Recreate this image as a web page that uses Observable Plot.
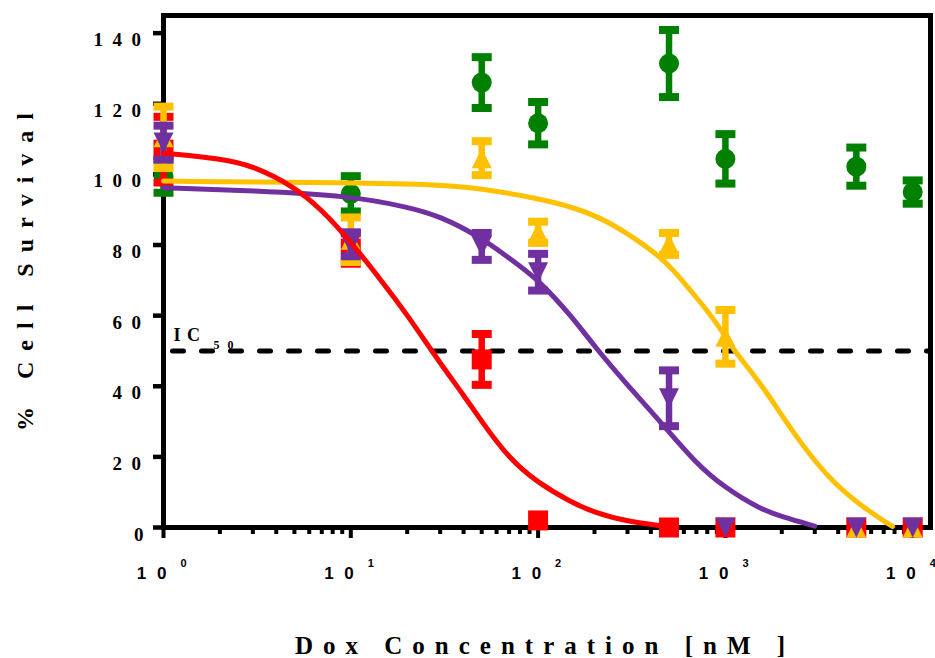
<!DOCTYPE html>
<html>
<head>
<meta charset="utf-8">
<script src="https://cdn.jsdelivr.net/npm/d3@7"></script>
<script src="https://cdn.jsdelivr.net/npm/@observablehq/plot@0.6"></script>
<style>
  html, body { margin: 0; padding: 0; background: #fff; }
</style>
</head>
<body>
<div id="chart"></div>
<script>
// ---- data ----
const doses = [1, 10, 50, 100, 500, 1000, 5000, 10000];

const greenMean  = [99.5, 94.5, 126, 114.5, 131.4, 104.4, 102.2, 95];
const greenErr   = [4.7, 5, 7.2, 6, 9.5, 7, 5.4, 3.3];
const redMean    = [107, 79, 47.6, 2, 0, 0, 0, 0];
const redErr     = [9.3, 4.3, 7.2, 0, 0, 0, 0, 0];
const yellowMean = [110.5, 81.5, 104.6, 83.6, 80.3, 54, 0, 0];
const yellowErr  = [8.7, 6.3, 4.8, 3, 3.1, 7.6, 0, 0];
const purpleMean = [109, 80.2, 79.6, 72.3, 36.6, 0, 0, 0];
const purpleErr  = [4.8, 3.4, 3.8, 5.2, 7.9, 0, 0, 0];

// fitted curves
const redFitDose = [1, 2, 3, 5, 7, 10, 15, 20, 30, 40, 50, 70, 100, 150, 200, 300, 550];
const redFitSurv = [106, 104.5, 102.5, 96.5, 90, 81, 69, 60.3, 46.5, 37.5, 30, 19.5, 12.6, 7.2, 4.2, 1.6, 0];
const purpleFitDose = [1, 3, 10, 20, 30, 50, 70, 100, 150, 200, 300, 450, 700, 1000, 1500, 2000, 3000];
const purpleFitSurv = [96.2, 95.4, 93.9, 90.8, 88.2, 82, 76.3, 70.3, 60, 51.3, 40.3, 30, 18, 11.2, 5.5, 3, 0.4];
const yellowFitDose = [1, 10, 30, 50, 100, 155, 234, 352, 450, 530, 651, 800, 982, 1110, 1361, 1700, 2517, 3777, 5738, 7800];
const yellowFitSurv = [98.1, 97.6, 97.1, 96, 93.2, 90.7, 86.9, 80.8, 76.5, 72.8, 67.1, 61.5, 54.9, 50.1, 44.5, 37.5, 23.8, 12.4, 4.8, 0.3];

const ic50 = [50];
const yTicks = [0, 20, 40, 60, 80, 100, 120, 140];
const xMajor = [1, 10, 100, 1000, 10000];
const xExponents = ["0", "1", "2", "3", "4"];
const xMinor = [2,3,4,5,6,7,8,9, 20,30,40,50,60,70,80,90, 200,300,400,500,600,700,800,900, 2000,3000,4000,5000,6000,7000,8000,9000];

const colors = {green: "#008000", red: "#FF0000", yellow: "#FFC000", purple: "#7030A0"};

// ---- symbols ----
const rectSym = (w, h) => ({draw(ctx) { ctx.moveTo(-w, -h); ctx.lineTo(w, -h); ctx.lineTo(w, h); ctx.lineTo(-w, h); ctx.closePath(); }});
const capSym = rectSym(10, 4);
const squareSym = rectSym(10, 10);
const triUp = {draw(ctx) { ctx.moveTo(0, -10); ctx.lineTo(10, 10); ctx.lineTo(-10, 10); ctx.closePath(); }};
const triDown = {draw(ctx) { ctx.moveTo(-10, -10); ctx.lineTo(10, -10); ctx.lineTo(0, 10); ctx.closePath(); }};

const table = (mean, err) => doses.map((d, i) => ({dose: d, v: mean[i], e: err[i]}));
const curve = (xs, ys) => xs.map((d, i) => ({dose: d, v: ys[i]}));

function seriesMarks(tbl, color, symbol) {
  const withErr = tbl.filter(d => d.e > 0);
  return [
    Plot.ruleX(withErr, {x: "dose", y1: d => d.v - d.e, y2: d => d.v + d.e, stroke: color, strokeWidth: 6.5}),
    Plot.dot(withErr, {x: "dose", y: d => d.v - d.e, symbol: capSym, r: 10, fill: color}),
    Plot.dot(withErr, {x: "dose", y: d => d.v + d.e, symbol: capSym, r: 10, fill: color}),
    Plot.dot(tbl, {x: "dose", y: "v", symbol, r: 10, fill: color})
  ];
}

const serif = "'Liberation Serif', 'Times New Roman', serif";
const sans = "'Liberation Sans', Arial, sans-serif";

const chart = Plot.plot({
  width: 935,
  height: 658,
  marginLeft: 163,
  marginRight: 5,
  marginTop: 15,
  marginBottom: 131,
  style: {background: "white", overflow: "visible"},
  x: {type: "log", domain: [1, 12445], axis: null, label: null},
  y: {domain: [0, 145], axis: null, label: null},
  marks: [
    // axes ticks
    Plot.axisY(yTicks, {tickSize: 10, strokeWidth: 4.5, tickFormat: () => ""}),
    Plot.axisX(xMajor, {tickSize: 11, strokeWidth: 4, tickFormat: () => ""}),
    Plot.axisX(xMinor, {tickSize: 7, strokeWidth: 4, tickFormat: () => ""}),
    Plot.frame({stroke: "black", strokeWidth: 5}),
    // tick labels
    Plot.text(yTicks, {y: d => d, frameAnchor: "left", text: d => String(d).split("").join(" "),
      textAnchor: "end", lineAnchor: "bottom", dx: -20, dy: 13, fontFamily: serif, fontSize: 19, fontWeight: "bold", fill: "black"}),
    Plot.text(xMajor, {x: d => d, frameAnchor: "bottom", text: () => "1 0",
      textAnchor: "end", lineAnchor: "bottom", dx: 6, dy: 51, fontFamily: sans, fontSize: 17, fontWeight: "bold", fill: "black"}),
    Plot.text(xMajor, {x: d => d, frameAnchor: "bottom", text: (d, i) => xExponents[i],
      textAnchor: "start", lineAnchor: "bottom", dx: 17, dy: 39, fontFamily: sans, fontSize: 11, fontWeight: "bold", fill: "black"}),
    // axis titles
    Plot.text(["% Cell Survival"], {frameAnchor: "left", text: d => d, rotate: -90, textAnchor: "middle", lineAnchor: "bottom",
      dx: -131, dy: -5, fontFamily: serif, fontSize: 24, fontWeight: "bold", fill: "black"}),
    Plot.text(["Dox Concentration [nM ]"], {frameAnchor: "bottom", text: d => d, textAnchor: "middle", lineAnchor: "bottom",
      dx: -2, dy: 126, fontFamily: serif, fontSize: 25, fontWeight: "bold", fill: "black"}),
    // IC50 reference
    Plot.ruleY(ic50, {y: d => d, stroke: "black", strokeWidth: 5, strokeDasharray: "11,18", strokeDashoffset: 19.5, strokeLinecap: "round"}),
    Plot.text(ic50, {y: d => d, frameAnchor: "left", text: () => "I C", textAnchor: "start", lineAnchor: "bottom",
      dx: 10, dy: -10, fontFamily: serif, fontSize: 18, fontWeight: "bold", fill: "black"}),
    Plot.text(ic50, {y: d => d, frameAnchor: "left", text: () => "5 0", textAnchor: "start", lineAnchor: "bottom",
      dx: 50, dy: -2, fontFamily: serif, fontSize: 12, fontWeight: "bold", fill: "black"}),
    // data
    ...seriesMarks(table(greenMean, greenErr), colors.green, "circle"),
    ...seriesMarks(table(redMean, redErr), colors.red, squareSym),
    ...seriesMarks(table(yellowMean, yellowErr), colors.yellow, triUp),
    ...seriesMarks(table(purpleMean, purpleErr), colors.purple, triDown),
    // fits
    Plot.line(curve(yellowFitDose, yellowFitSurv), {x: "dose", y: "v", stroke: colors.yellow, strokeWidth: 5, curve: "basis"}),
    Plot.line(curve(purpleFitDose, purpleFitSurv), {x: "dose", y: "v", stroke: colors.purple, strokeWidth: 5, curve: "basis"}),
    Plot.line(curve(redFitDose, redFitSurv), {x: "dose", y: "v", stroke: colors.red, strokeWidth: 5, curve: "basis"})
  ]
});
document.getElementById("chart").appendChild(chart);

// letter spacing applied to the text elements by content
const spacing = {
  "% Cell Survival": 11,
  "Dox Concentration [nM ]": 10,
  "1 0": 3,
  "I C": 1,
  "5 0": 2.5
};
d3.select(chart).selectAll("text").each(function() {
  const t = this.textContent;
  let ls = spacing[t];
  if (ls === undefined && /^\d( \d)+$/.test(t)) ls = 2.4;
  if (ls !== undefined) {
    this.setAttribute("letter-spacing", ls + "px");
    this.style.letterSpacing = ls + "px";
  }
});
</script>
</body>
</html>
